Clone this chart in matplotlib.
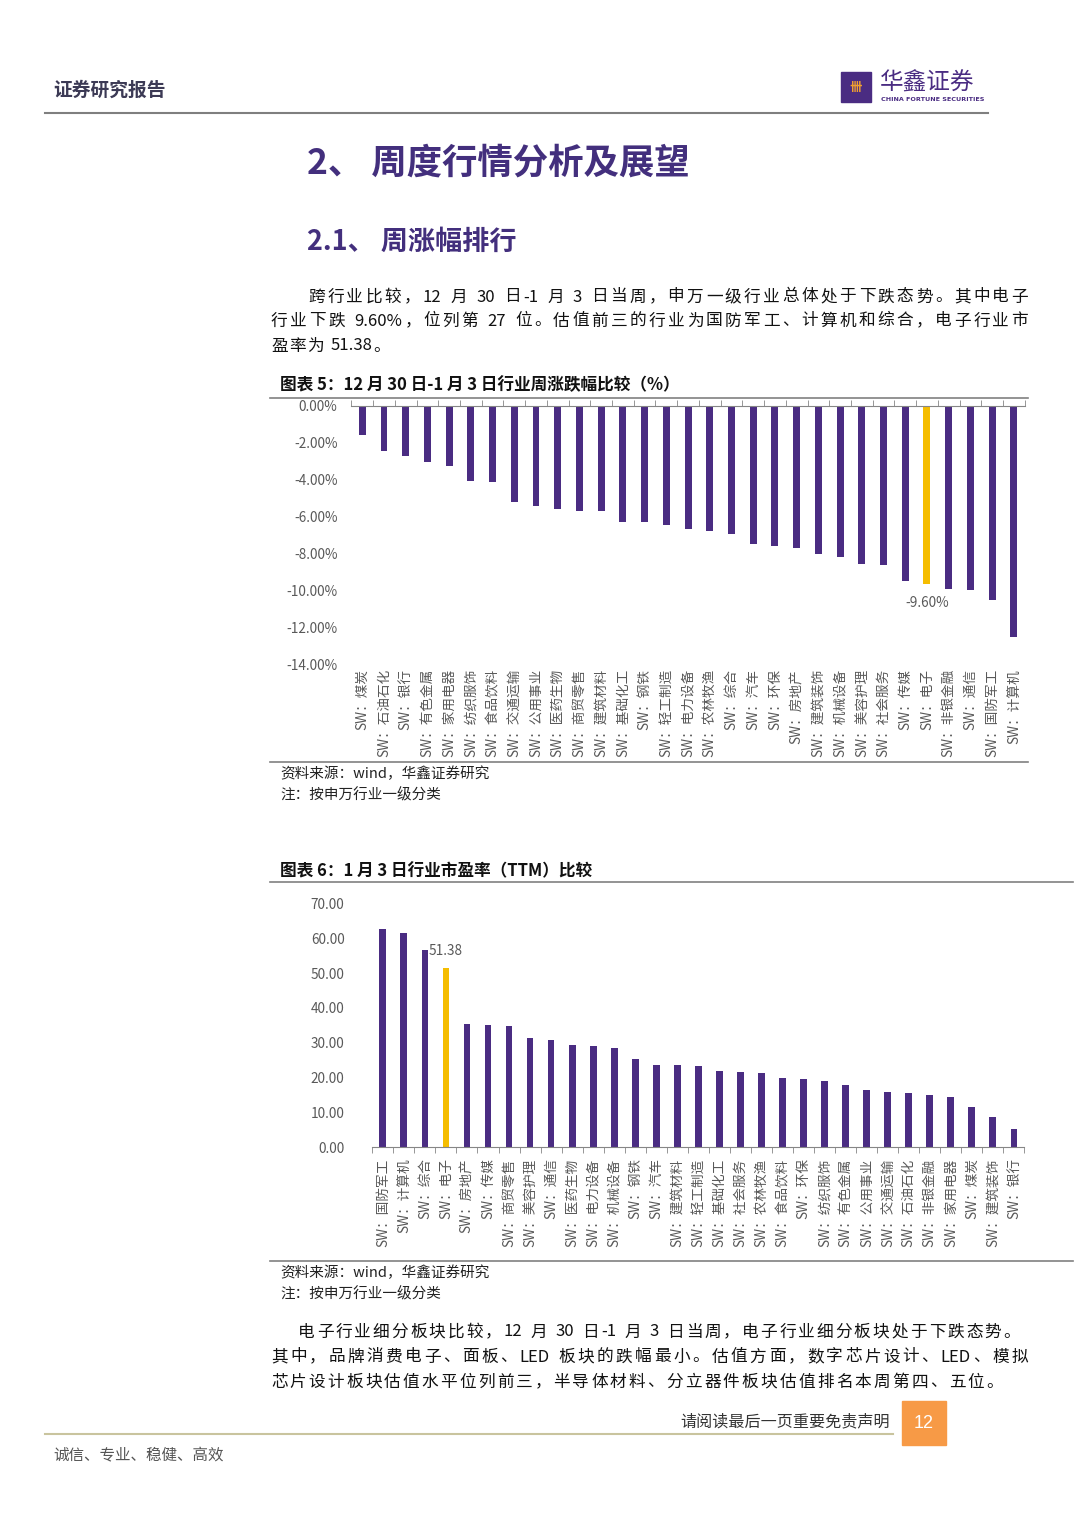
import re
import numpy as np
import matplotlib
matplotlib.use('Agg')
import matplotlib.pyplot as plt
from matplotlib.patches import Rectangle

plt.rcParams['font.family'] = ['Noto Sans CJK SC', 'DejaVu Sans']

# weekly change by SW level-1 industry (%), 12/30 - 1/3
ind_wk = ['煤炭', '石油石化', '银行', '有色金属', '家用电器', '纺织服饰', '食品饮料', '交通运输',
          '公用事业', '医药生物', '商贸零售', '建筑材料', '基础化工', '钢铁', '轻工制造', '电力设备',
          '农林牧渔', '综合', '汽车', '环保', '房地产', '建筑装饰', '机械设备', '美容护理',
          '社会服务', '传媒', '电子', '非银金融', '通信', '国防军工', '计算机']
chg_wk = [-1.58, -2.43, -2.74, -3.02, -3.26, -4.08, -4.14, -5.18, -5.40, -5.56, -5.67, -5.70,
          -6.28, -6.30, -6.46, -6.66, -6.77, -6.95, -7.47, -7.58, -7.67, -7.99, -8.19, -8.52,
          -8.60, -9.45, -9.60, -9.90, -9.96, -10.50, -12.50]

# PE (TTM) on 1/3
ind_pe = ['国防军工', '计算机', '综合', '电子', '房地产', '传媒', '商贸零售', '美容护理', '通信',
          '医药生物', '电力设备', '机械设备', '钢铁', '汽车', '建筑材料', '轻工制造', '基础化工',
          '社会服务', '农林牧渔', '食品饮料', '环保', '纺织服饰', '有色金属', '公用事业', '交通运输',
          '石油石化', '非银金融', '家用电器', '煤炭', '建筑装饰', '银行']
pe = [62.7, 61.4, 56.6, 51.38, 35.3, 35.1, 34.7, 31.5, 30.9, 29.4, 29.2, 28.5, 25.2, 23.7,
      23.5, 23.4, 21.9, 21.7, 21.3, 19.8, 19.6, 19.1, 17.8, 16.4, 15.9, 15.7, 15.0, 14.4,
      11.6, 8.7, 5.3]

highlight = '电子'
PURPLE = '#4a2c82'
GOLD = '#f5bd00'
GRAY = '#595959'

W, H = 1080, 1528
fig = plt.figure(figsize=(W / 100, H / 100), dpi=100)
renderer = fig.canvas.get_renderer()


def fx(x):
    return x / W


def fy(y):
    return 1 - y / H


def hline(y, x0, x1, color='#808080', lw=1.2):
    fig.add_artist(plt.Line2D([fx(x0), fx(x1)], [fy(y), fy(y)], color=color, lw=lw))


def txt(x, y, s, size, **kw):
    kw.setdefault('va', 'center')
    kw.setdefault('ha', 'left')
    return fig.text(fx(x), fy(y), s, fontsize=size, **kw)


def para_line(s, y, x0, x1=None, size=12, color='#111111', gap=1.3):
    # crude justified line: place tokens one by one
    toks = re.findall(r'[A-Za-z0-9.%\-]+| |.', s)
    ts, ws = [], []
    for t in toks:
        if t == ' ':
            ts.append(None)
            ws.append(size * 100 / 72 * 0.25)
        else:
            o = txt(0, y, t, size, color=color)
            ts.append(o)
            ws.append(o.get_window_extent(renderer).width)
    if x1 is not None and len(toks) > 1:
        gap = (x1 - x0 - sum(ws)) / (len(toks) - 1)
    x = x0
    for o, w in zip(ts, ws):
        if o is not None:
            o.set_position((fx(x), fy(y)))
        x += w + gap


def sw(name):
    return 'SW：' + name


# ---- page header ----
txt(53, 90, '证券研究报告', 13.5, color='#3c3a55', weight='bold')
fig.add_artist(Rectangle((fx(841), fy(102)), fx(30), 30 / H, color=PURPLE, transform=fig.transFigure))
txt(856, 87, '卌', 9, color='#f0a030', ha='center', weight='bold')
txt(880, 83, '华鑫证券', 17, color=PURPLE)
txt(881, 99.5, 'CHINA FORTUNE SECURITIES', 4.6, color=PURPLE, family='DejaVu Sans', weight='bold')
hline(113, 45, 988, color='#7f7f7f', lw=1.5)

txt(307, 163, '2、 周度行情分析及展望', 25.5, color='#432f7d', weight='bold')
txt(307, 242, '2.1、 周涨幅排行', 19.5, color='#432f7d', weight='bold')

para_line('跨行业比较，12 月 30 日-1 月 3 日当周，申万一级行业总体处于下跌态势。其中电子', 297, 308, 1028)
para_line('行业下跌 9.60%，位列第 27 位。估值前三的行业为国防军工、计算机和综合，电子行业市', 321, 271, 1028)
para_line('盈率为 51.38。', 346, 271)

# ---- chart 1 ----
txt(280, 385, '图表 5：12 月 30 日-1 月 3 日行业周涨跌幅比较（%）', 12, color='#111111', weight='bold')
hline(398, 270, 1028)

ax1 = fig.add_axes([fx(351.4), fy(665), (1024.7 - 351.4) / W, (665 - 405.7) / H])
x1 = np.arange(len(ind_wk))
cols1 = [GOLD if n == highlight else PURPLE for n in ind_wk]
ax1.bar(x1, chg_wk, width=0.32, color=cols1)
ax1.set_xlim(-0.5, len(ind_wk) - 0.5)
ax1.set_ylim(-14, 0)
ax1.set_yticks(np.arange(-14, 1, 2))
ax1.set_yticklabels([f'{v:.2f}%' for v in np.arange(-14, 1, 2)])
ax1.set_xticks(x1)
ax1.set_xticklabels([sw(n) for n in ind_wk], rotation=90)
ax1.set_xticks(np.arange(-0.5, len(ind_wk), 1), minor=True)
for s in ['left', 'right', 'bottom']:
    ax1.spines[s].set_visible(False)
ax1.spines['top'].set_color('#868686')
ax1.tick_params(axis='x', which='major', length=0, pad=3, labelsize=9.8, labelcolor=GRAY)
ax1.tick_params(axis='x', which='minor', top=True, bottom=False, direction='out', length=4, color='#868686')
ax1.tick_params(axis='y', length=0, pad=10, labelsize=9.8, labelcolor=GRAY)
ax1.patch.set_alpha(0)
i = ind_wk.index(highlight)
ax1.text(i, chg_wk[i] - 1.05, f'{chg_wk[i]:.2f}%', ha='center', va='center', fontsize=9.8, color=GRAY)

hline(762, 270, 1028)
txt(280, 774, '资料来源：wind，华鑫证券研究', 10.5, color='#222222')
txt(280, 795, '注：按申万行业一级分类', 10.5, color='#222222')

# ---- chart 2 ----
txt(280, 871, '图表 6：1 月 3 日行业市盈率（TTM）比较', 12, color='#111111', weight='bold')
hline(882, 270, 1073)

ax2 = fig.add_axes([fx(372.3), fy(1147.3), (1024.4 - 372.3) / W, (1147.3 - 903.3) / H])
x2 = np.arange(len(ind_pe))
cols2 = [GOLD if n == highlight else PURPLE for n in ind_pe]
ax2.bar(x2, pe, width=0.32, color=cols2)
ax2.set_xlim(-0.5, len(ind_pe) - 0.5)
ax2.set_ylim(0, 70)
ax2.set_yticks(np.arange(0, 71, 10))
ax2.set_yticklabels([f'{v:.2f}' for v in np.arange(0, 71, 10)])
ax2.set_xticks(x2)
ax2.set_xticklabels([sw(n) for n in ind_pe], rotation=90)
ax2.set_xticks(np.arange(-0.5, len(ind_pe), 1), minor=True)
for s in ['left', 'right', 'top']:
    ax2.spines[s].set_visible(False)
ax2.spines['bottom'].set_color('#868686')
ax2.tick_params(axis='x', which='major', length=0, pad=8, labelsize=9.8, labelcolor=GRAY)
ax2.tick_params(axis='x', which='minor', bottom=True, direction='out', length=4, color='#868686')
ax2.tick_params(axis='y', length=0, pad=20, labelsize=9.8, labelcolor=GRAY)
ax2.patch.set_alpha(0)
j = ind_pe.index(highlight)
ax2.text(j, pe[j] + 5, f'{pe[j]:.2f}', ha='center', va='center', fontsize=9.8, color=GRAY)

hline(1261, 270, 1073)
txt(280, 1273, '资料来源：wind，华鑫证券研究', 10.5, color='#222222')
txt(280, 1294, '注：按申万行业一级分类', 10.5, color='#222222')

para_line('电子行业细分板块比较，12 月 30 日-1 月 3 日当周，电子行业细分板块处于下跌态势。', 1332, 298, 1020)
para_line('其中，品牌消费电子、面板、LED 板块的跌幅最小。估值方面，数字芯片设计、LED、模拟', 1357, 271, 1028)
para_line('芯片设计板块估值水平位列前三，半导体材料、分立器件板块估值排名本周第四、五位。', 1382, 271, 1003)

# ---- footer ----
txt(890, 1422, '请阅读最后一页重要免责声明', 11.6, color='#333333', ha='right')
hline(1434, 45, 893, color='#c9c49e', lw=1.5)
fig.add_artist(Rectangle((fx(902), fy(1445)), fx(44), 44 / H, color='#f79a46', transform=fig.transFigure))
txt(924, 1423, '12', 13, color='white', ha='center', family='Liberation Sans')
txt(53, 1456, '诚信、专业、稳健、高效', 11.2, color='#555555')

fig.savefig('out.png', dpi=100)
